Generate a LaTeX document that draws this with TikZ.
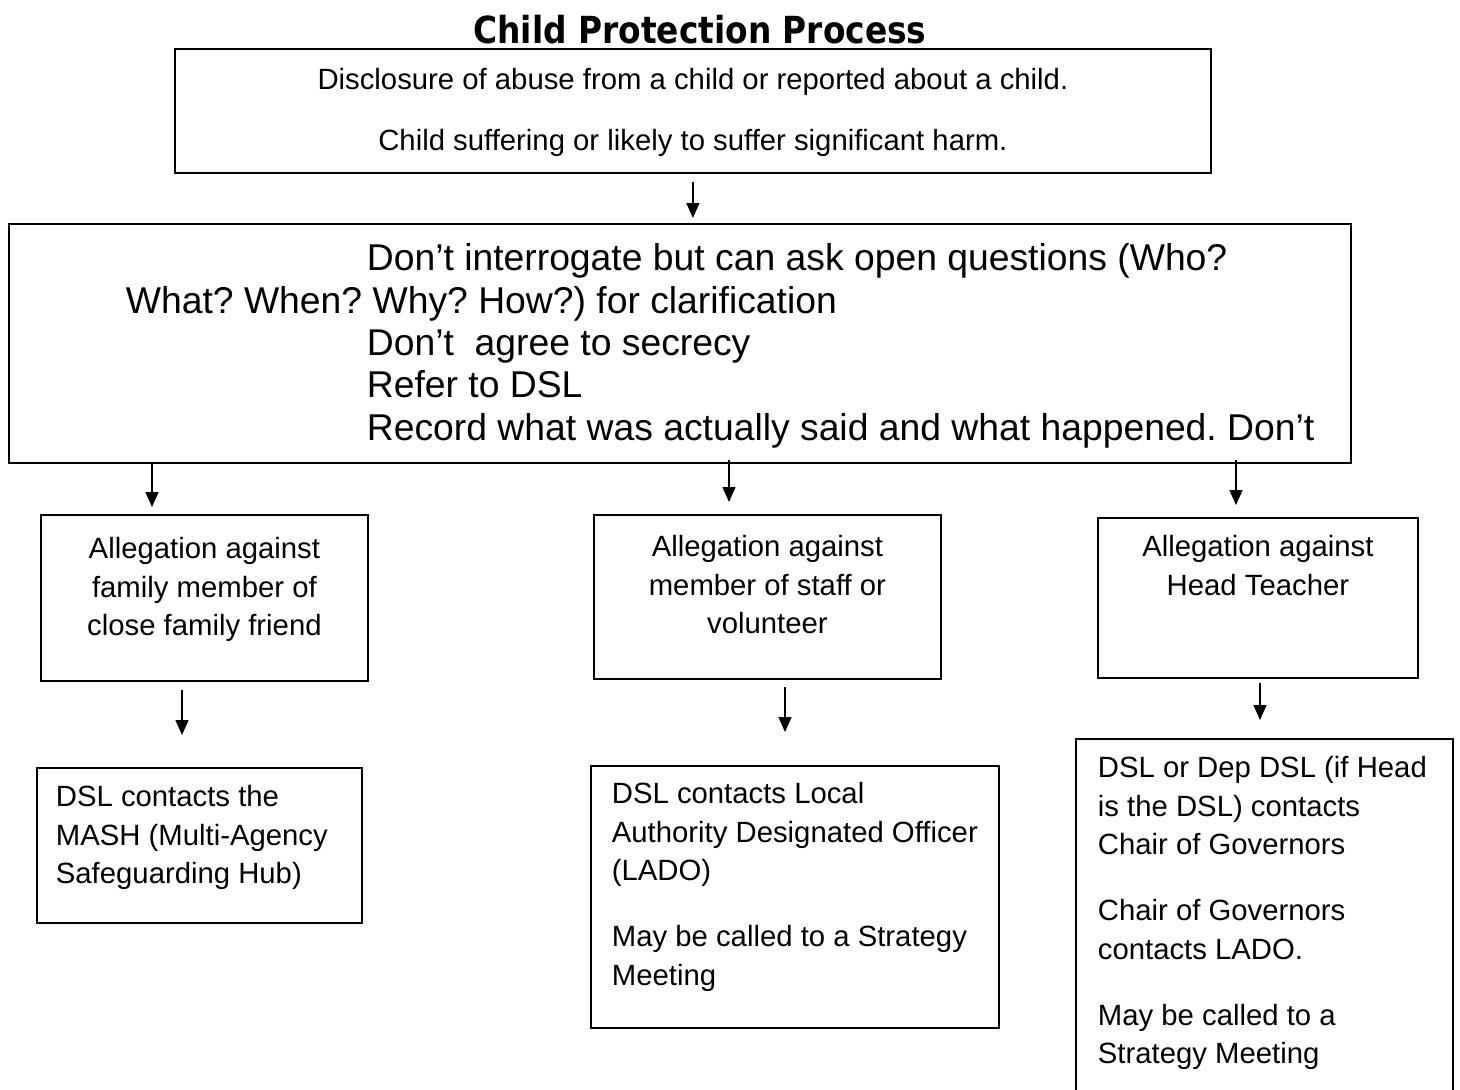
\documentclass[tikz,border=0pt]{standalone}
\usepackage{fontspec}
\usepackage{graphicx}
\setmainfont{Liberation Sans}
\newfontfamily\titlefont{DejaVu Sans}
\usetikzlibrary{arrows.meta}
\frenchspacing
\tikzset{
  box/.style={draw, line width=1.8pt, inner sep=0pt, anchor=north west},
  arr/.style={line width=1.5pt, -{Triangle[width=13pt,length=15pt]}},
}
\newcommand{\smallfnt}{\fontsize{29.3}{38.5}\selectfont}
\newcommand{\bigfnt}{\fontsize{37.3}{42.3}\selectfont}
\begin{document}
\begin{tikzpicture}[x=1pt,y=-1pt]
\useasboundingbox (0,0) rectangle (1460,1090);
\clip (0,0) rectangle (1460,1090);
\fill[white] (0,0) rectangle (1460,1090);

\node[anchor=base] (title) at (700,43)
  {\scalebox{0.88}[1]{\titlefont\fontsize{37.3}{40}\selectfont\bfseries Child Protection Process}};

\node[box] (top) at (174,48) {\parbox[c][124pt][t]{1036pt}{\smallfnt\frenchspacing\centering
  \rule{0pt}{41pt}Disclosure of abuse from a child or reported about a child.\\[22.5pt]
  Child suffering or likely to suffer significant harm.}};

\node[box] (big) at (8,223) {\parbox[c][239pt][t]{1342pt}{\bigfnt\frenchspacing\raggedright
  \rule{0pt}{47pt}\hspace*{358pt}Don’t interrogate but can ask open questions (Who?\\
  \hspace*{117pt}What? When? Why? How?) for clarification\\
  \hspace*{358pt}Don’t\ \ agree to secrecy\\
  \hspace*{358pt}Refer to DSL\\
  \hspace*{358pt}Record what was actually said and what happened. Don’t}};

\node[box] (b1) at (40,514) {\parbox[c][166pt][t]{327pt}{\smallfnt\centering
  \rule{0pt}{44pt}Allegation against\\ family member of\\ close family friend}};
\node[box] (b2) at (593,514) {\parbox[c][164pt][t]{347pt}{\smallfnt\centering
  \rule{0pt}{42pt}Allegation against\\ member of staff or\\ volunteer}};
\node[box] (b3) at (1097,517) {\parbox[c][160pt][t]{320pt}{\smallfnt\centering
  \rule{0pt}{39pt}Allegation against\\ Head Teacher}};

\node[box] (d1) at (36,767) {\parbox[c][155pt][t]{325pt}{\smallfnt\raggedright\leftskip=19pt
  \rule{0pt}{39pt}DSL contacts the\\ MASH (Multi-Agency\\ Safeguarding Hub)}};
\node[box] (d2) at (590,765) {\parbox[c][262pt][t]{408pt}{\smallfnt\raggedright\leftskip=21pt
  \rule{0pt}{38pt}DSL contacts Local\\ Authority Designated Officer\\ (LADO)\\[27.5pt]
  May be called to a Strategy\\ Meeting}};
\node[box] (d3) at (1075,738) {\parbox[c][370pt][t]{377pt}{\smallfnt\frenchspacing\raggedright\leftskip=22pt
  \rule{0pt}{39pt}DSL or Dep DSL (if Head\\ is the DSL) contacts\\ Chair of Governors\\[27.5pt]
  Chair of Governors\\ contacts LADO.\\[27.5pt]
  May be called to a\\ Strategy Meeting}};

\path (152,0) coordinate (c1) (729,0) coordinate (c2) (1236,0) coordinate (c3)
      (182,0) coordinate (c4) (785,0) coordinate (c5) (1260,0) coordinate (c6);

\draw[arr] ([yshift=-8pt]top.south) -- ([yshift=5pt]top.south |- big.north);
\draw[arr] ([yshift=2pt]c1 |- big.south) -- ([yshift=7pt]c1 |- b1.north);
\draw[arr] ([yshift=4pt]c2 |- big.south) -- ([yshift=12pt]c2 |- b2.north);
\draw[arr] ([yshift=4pt]c3 |- big.south) -- ([yshift=12pt]c3 |- b3.north);
\draw[arr] ([yshift=-8pt]c4 |- b1.south) -- ([yshift=32pt]c4 |- d1.north);
\draw[arr] ([yshift=-7pt]c5 |- b2.south) -- ([yshift=33pt]c5 |- d2.north);
\draw[arr] ([yshift=-4pt]c6 |- b3.south) -- ([yshift=18pt]c6 |- d3.north);
\end{tikzpicture}
\end{document}
